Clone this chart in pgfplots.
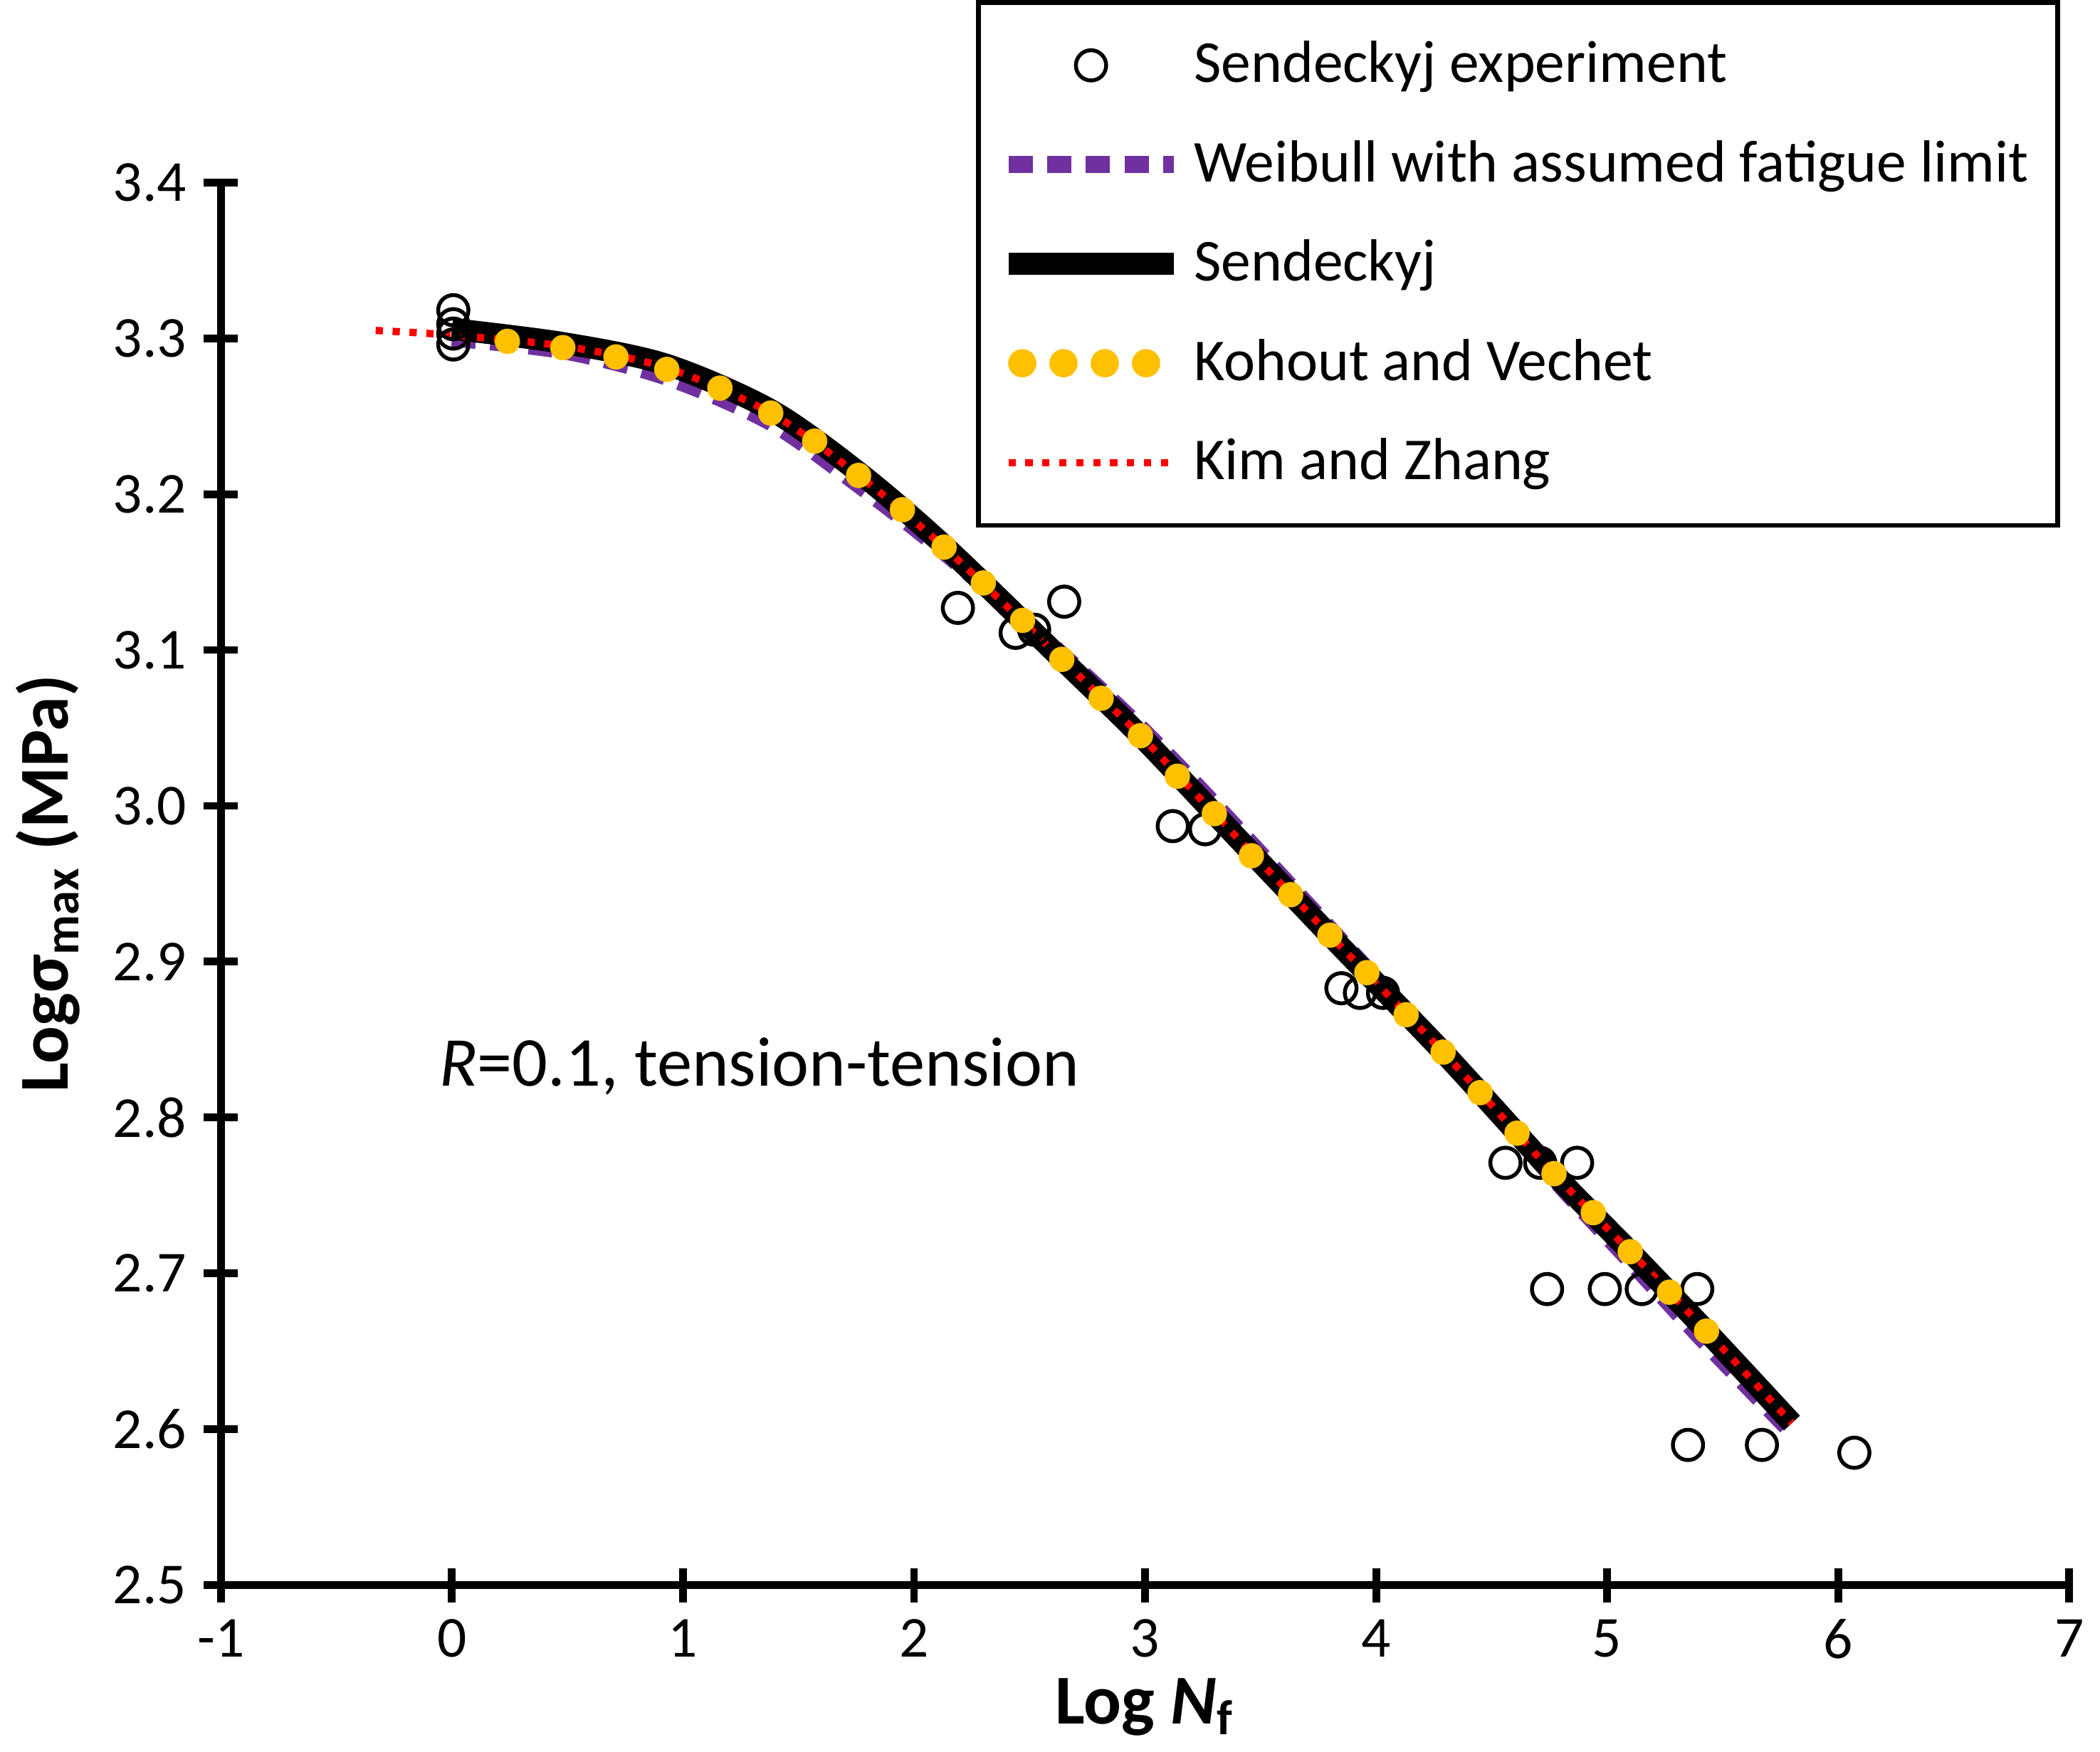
\documentclass[border=0pt]{standalone}
\usepackage{pgfplots}
\pgfplotsset{compat=1.18}
\usepackage{fontspec}
\setmainfont{Carlito}
\begin{document}
\begin{tikzpicture}
\begin{axis}[
  scale only axis, width=13.44cm, height=10.2cm,
  xmin=-1, xmax=7, ymin=2.5, ymax=3.4,
  axis x line*=bottom, axis y line*=left,
  axis line style={line width=1.6pt,-},
  every tick/.style={line width=1.6pt,black},
  tick align=center, major tick length=0.25cm,
  xtick={-1,...,7}, ytick={2.5,2.6,...,3.4},
  yticklabel style={/pgf/number format/fixed,/pgf/number format/fixed zerofill,/pgf/number format/precision=1},
  /pgf/number format/assume math mode=true,
  tick label style={font=\fontsize{12}{14}\selectfont},
  xlabel={\textbf{Log \textit{N}\textsubscript{f}}},
  ylabel={\textbf{Logσ\textsubscript{max} (MPa)}},
  label style={font=\fontsize{14.5}{17}\selectfont},
  xlabel style={yshift=0.1cm},
  legend cell align=left,
  legend style={at={(0.995,1.13)}, anchor=north east, draw=black, line width=1pt,
    font=\fontsize{12.3}{14}\selectfont, row sep=6.5pt, inner xsep=4pt, inner ysep=6pt},
  legend image code/.code={\draw[#1] (0cm,0cm) -- (1.2cm,0cm);},
  clip=false,
]
\addplot[only marks, mark=o, mark size=0.11cm, black, fill=white, line width=0.8pt,
  legend image code/.code={\draw[black,fill=white,line width=0.8pt] (0.6cm,0cm) circle (0.11cm);}]
coordinates {(0.006,3.318)(0.006,3.309)(0.006,3.303)(0.006,3.296)(2.19,3.127)(2.44,3.111)(2.52,3.113)(2.65,3.131)(3.12,2.987)(3.26,2.985)(3.85,2.883)(3.93,2.880)(4.03,2.880)(4.56,2.771)(4.71,2.771)(4.87,2.771)(4.74,2.690)(4.99,2.690)(5.15,2.690)(5.39,2.690)(5.35,2.590)(5.67,2.590)(6.07,2.585)};
\addlegendentry{Sendeckyj experiment}
\addplot[color={rgb,255:red,112;green,48;blue,160}, line width=3.5pt, dash pattern=on 5pt off 3pt, smooth]
coordinates {(0,3.300)(0.48,3.292)(0.93,3.275)(1.38,3.246)(1.76,3.206)(2.13,3.163)(2.64,3.097)(2.98,3.050)(3.30,3.001)(3.80,2.921)(4.29,2.842)(4.77,2.761)(5.10,2.708)(5.43,2.655)(5.80,2.598)};
\addlegendentry{Weibull with assumed fatigue limit}
\addplot[black, line width=4.5pt, smooth]
coordinates {(0,3.306)(0.48,3.297)(0.93,3.283)(1.38,3.254)(1.76,3.214)(2.13,3.167)(2.64,3.094)(2.98,3.045)(3.30,2.995)(3.80,2.917)(4.29,2.842)(4.77,2.764)(5.10,2.714)(5.43,2.663)(5.80,2.604)};
\addlegendentry{Sendeckyj}
\addplot[only marks, mark=*, mark size=0.085cm, color={rgb,255:red,255;green,192;blue,0},
  legend image code/.code={\foreach \i in {0.1,0.4,0.7,1.0}{\fill[color={rgb,255:red,255;green,192;blue,0}] (\i cm,0cm) circle (0.085cm);}}]
coordinates {(0.24,3.298)(0.48,3.294)(0.71,3.288)(0.93,3.280)(1.16,3.268)(1.38,3.252)(1.57,3.234)(1.76,3.212)(1.95,3.190)(2.13,3.166)(2.30,3.143)(2.47,3.119)(2.64,3.094)(2.81,3.069)(2.98,3.045)(3.14,3.019)(3.30,2.995)(3.46,2.968)(3.63,2.943)(3.80,2.917)(3.96,2.893)(4.13,2.866)(4.29,2.842)(4.45,2.816)(4.61,2.790)(4.77,2.764)(4.94,2.739)(5.10,2.714)(5.27,2.688)(5.43,2.663)};
\addlegendentry{Kohout and Vechet}
\addplot[red, line width=1.5pt, dash pattern=on 1.5pt off 2pt, smooth]
coordinates {(-0.33,3.305)(0,3.302)(0.48,3.295)(0.93,3.281)(1.38,3.252)(1.76,3.212)(2.13,3.166)(2.64,3.094)(2.98,3.045)(3.30,2.995)(3.80,2.917)(4.29,2.842)(4.77,2.764)(5.10,2.714)(5.43,2.663)(5.80,2.604)};
\addlegendentry{Kim and Zhang}
\node[font=\fontsize{14.5}{17}\selectfont] at (axis cs:1.33,2.833) {\textit{R}=0.1, tension-tension};
\end{axis}
\end{tikzpicture}
\end{document}
